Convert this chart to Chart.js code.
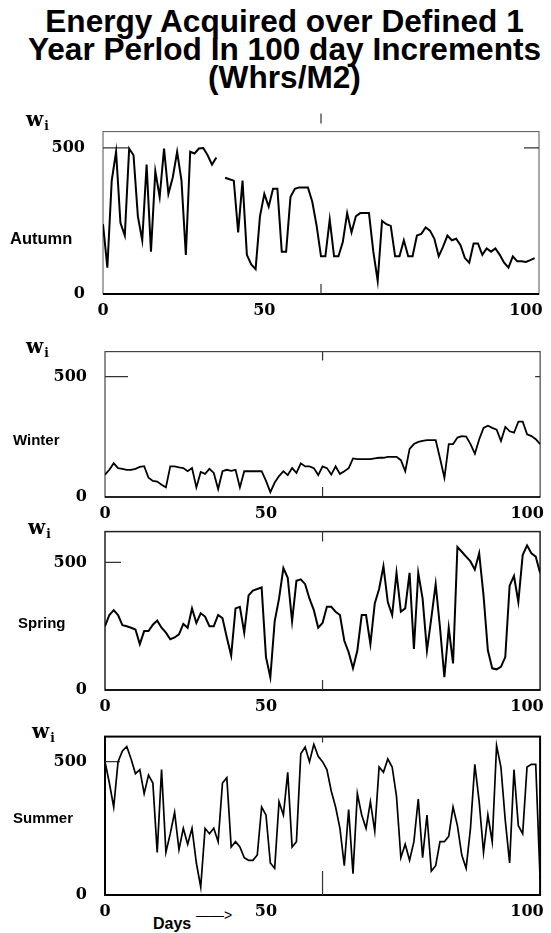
<!DOCTYPE html>
<html>
<head>
<meta charset="utf-8">
<script src="https://cdn.jsdelivr.net/npm/chart.js@4"></script>
<style>
  html, body { margin: 0; padding: 0; background: #fff; }
  body { width: 551px; height: 933px; position: relative; overflow: hidden;
         font-family: "Liberation Sans", Arial, sans-serif; color: #000; }
  #title { position: absolute; left: 9px; top: 8px; width: 551px; text-align: center;
           font-weight: bold; font-size: 31px; line-height: 28px;
           transform: scaleX(1.02); transform-origin: 50% 0; }
  canvas { position: absolute; left: 0; }
  .season { position: absolute; font-weight: bold; font-size: 15px; line-height: 16px; }
  .wi { position: absolute; font-family: "DejaVu Serif", serif; font-weight: bold;
        font-size: 20px; line-height: 20px; }
  .wi sub { font-size: 12px; vertical-align: -4px; margin-left: 1px; }
  #days { position: absolute; left: 153px; top: 916px; font-weight: bold; font-size: 16px; line-height: 16px; }
  #arrow { position: absolute; left: 196px; top: 908px; font-size: 14px; line-height: 14px; }
</style>
</head>
<body>
<div id="title">Energy Acquired over Defined 1<br>Year Perlod In 100 day Increments<br>(Whrs/M2)</div>
<div id="days">Days</div>
<div id="arrow">——&gt;</div>

<script>
'use strict';

// ─── Data (Whrs/M2 per day) ─────────────────────────────────────────────────
const DAYS = Array.from({ length: 101 }, (_, i) => i);

const AUTUMN = [
  239, 90, 388, 487, 244, 200, 498, 475, 266, 184,
  443, 145, 420, 332, 498, 343, 399, 487, 388, 134,
  487, 481, 498, 500, 475, 443, 467, null, 398, 393,
  388, 211, 388, 134, 101, 85, 266, 343, 299, 360,
  360, 145, 145, 332, 360, 365, 365, 365, 316, 233,
  129, 129, 255, 129, 129, 178, 277, 211, 266, 277,
  277, 277, 145, 45, 250, 239, 233, 129, 129, 184,
  129, 129, 200, 206, 228, 217, 189, 129, 162, 200,
  184, 189, 167, 123, 107, 173, 173, 134, 156, 145,
  156, 134, 107, 90, 129, 112, 112, 110, 116, 123, null,
];

const WINTER = [
  93, 113, 140, 120, 117, 113, 113, 117, 125, 128,
  80, 67, 64, 51, 40, 127, 127, 123, 120, 107,
  120, 40, 104, 96, 117, 100, 33, 107, 113, 109,
  113, 40, 107, 107, 107, 107, 107, 67, 20, 60,
  87, 107, 91, 120, 100, 140, 127, 127, 120, 91,
  127, 120, 93, 127, 96, 107, 120, 160, 157, 157,
  157, 157, 160, 163, 163, 167, 167, 167, 153, 107,
  200, 220, 229, 233, 236, 236, 236, 160, 80, 220,
  220, 247, 253, 251, 220, 180, 240, 287, 296, 287,
  280, 233, 291, 273, 267, 313, 313, 260, 253, 240, 220,
];

const SPRING = [
  250, 294, 313, 294, 254, 250, 244, 237, 180, 231,
  231, 256, 272, 244, 225, 199, 206, 218, 259, 244,
  320, 263, 301, 288, 250, 250, 294, 282, 206, 135,
  320, 326, 225, 371, 390, 396, 402, 129, 50, 269,
  358, 478, 440, 269, 428, 434, 415, 358, 313, 244,
  263, 326, 326, 307, 294, 193, 148, 85, 155, 294,
  294, 180, 339, 396, 485, 345, 294, 459, 307, 320,
  459, 161, 459, 358, 155, 282, 415, 244, 50, 244,
  104, 561, 542, 523, 504, 472, 536, 371, 155, 85,
  81, 91, 129, 409, 447, 345, 529, 567, 536, 523, 459,
];

const SUMMER = [
  500, 420, 330, 500, 540, 557, 510, 455, 470, 380,
  450, 420, 160, 470, 160, 230, 310, 170, 250, 190,
  250, 120, 30, 250, 230, 250, 200, 420, 440, 180,
  200, 180, 140, 130, 130, 150, 330, 300, 120, 100,
  350, 300, 460, 180, 200, 530, 555, 500, 565, 520,
  500, 470, 390, 330, 250, 110, 320, 80, 380, 300,
  250, 350, 240, 480, 460, 510, 480, 370, 140, 190,
  130, 200, 360, 140, 300, 90, 110, 200, 200, 220,
  330, 260, 150, 100, 250, 490, 350, 160, 300, 200,
  560, 480, 280, 120, 470, 260, 230, 480, 490, 490, 60,
];

// Axis ticks as printed on the figure (the "50" label sits left of centre).
const X_TICK_AT     = [0, 37, 97];
const X_TICK_LABELS = ['0', '50', '100'];
const Y_TICK_AT     = [0, 500];
const Y_TICK_LABELS = ['0', '500'];

// ─── Layout of the four stacked panels (pixels on the page) ─────────────────
const PANELS = [
  { name: 'Autumn', values: AUTUMN, yMax: 556, left: 103, right: 539, top: 126, bottom: 294,
    nameAt: [10, 230], nameSize: 16.5, wiAt: [26, 109], lineWidth: 2,
    frame: { color: '#555', width: 1, axis: 2 },
    midTop: [-18, -8], midBottom: [-10, 0], mark500: [25, 15] },
  { name: 'Winter', values: WINTER, yMax: 604, left: 105, right: 544, top: 346, bottom: 497,
    nameAt: [13, 432], nameSize: 15, wiAt: [26, 336], lineWidth: 1.8,
    frame: { color: '#444', width: 1.2, axis: 1.5 },
    midTop: [0, 9], midBottom: [-10, 0], mark500: [23, 5] },
  { name: 'Spring', values: SPRING, yMax: 621, left: 105, right: 542, top: 526, bottom: 690,
    nameAt: [18, 615], nameSize: 15, wiAt: [28, 517], lineWidth: 2,
    frame: { color: '#222', width: 1.5, axis: 1.5 },
    midTop: [0, 10], midBottom: [-10, 0], mark500: [16, 0] },
  { name: 'Summer', values: SUMMER, yMax: 594, left: 105, right: 542, top: 731, bottom: 895,
    nameAt: [13, 810], nameSize: 15, wiAt: [32, 721], lineWidth: 1.7,
    frame: { color: '#000', width: 2, axis: 2 },
    midTop: [0, 6], midBottom: [-24, 0], mark500: [15, 0] },
];

const TICK_FONT = { family: '"DejaVu Serif", serif', size: 16, weight: 'bold' };

// ─── Frame, inward tick marks ───────────────────────────────────────────────
const framePlugin = {
  id: 'frame',
  beforeDatasetsDraw(chart, args, o) {
    const { ctx, chartArea: a, scales: { x, y } } = chart;
    ctx.save();
    ctx.strokeStyle = o.color;
    ctx.lineWidth = o.width;
    ctx.strokeRect(a.left, a.top, a.right - a.left, a.bottom - a.top);

    ctx.strokeStyle = '#000';
    ctx.lineWidth = o.axis;
    ctx.beginPath();
    ctx.moveTo(a.left, a.bottom); ctx.lineTo(a.right, a.bottom);
    ctx.stroke();

    ctx.lineWidth = 1.2;
    ctx.strokeStyle = '#333';
    const xm = x.getPixelForValue(50);
    const y5 = y.getPixelForValue(500);
    ctx.beginPath();
    ctx.moveTo(xm, a.top + o.midTop[0]);       ctx.lineTo(xm, a.top + o.midTop[1]);
    ctx.moveTo(xm, a.bottom + o.midBottom[0]); ctx.lineTo(xm, a.bottom + o.midBottom[1]);
    if (o.mark500[0]) { ctx.moveTo(a.left, y5);  ctx.lineTo(a.left + o.mark500[0], y5); }
    if (o.mark500[1]) { ctx.moveTo(a.right, y5); ctx.lineTo(a.right - o.mark500[1], y5); }
    ctx.stroke();
    ctx.restore();
  },
};

// ─── One chart per panel ────────────────────────────────────────────────────
function drawPanel(p) {
  const canvasTop = p.top - 22;
  const canvasBottom = p.bottom + 28;

  const canvas = document.createElement('canvas');
  canvas.width = 551;
  canvas.height = canvasBottom - canvasTop;
  canvas.style.top = canvasTop + 'px';
  document.body.appendChild(canvas);

  const lbl = document.createElement('div');
  lbl.className = 'season';
  lbl.textContent = p.name;
  lbl.style.left = p.nameAt[0] + 'px';
  lbl.style.top = p.nameAt[1] + 'px';
  lbl.style.fontSize = p.nameSize + 'px';
  document.body.appendChild(lbl);

  const wi = document.createElement('div');
  wi.className = 'wi';
  wi.innerHTML = 'w<sub>i</sub>';
  wi.style.left = p.wiAt[0] + 'px';
  wi.style.top = p.wiAt[1] + 'px';
  document.body.appendChild(wi);

  return new Chart(canvas.getContext('2d'), {
    type: 'line',
    data: {
      datasets: [{
        data: DAYS.map((d, i) => ({ x: d, y: p.values[i] })),
        borderColor: '#000',
        borderWidth: p.lineWidth,
        pointRadius: 0,
        tension: 0,
        spanGaps: false,
      }],
    },
    options: {
      responsive: false,
      animation: false,
      events: [],
      layout: { padding: { top: p.top - canvasTop, right: 551 - p.right, left: 0, bottom: 0 } },
      plugins: {
        legend: { display: false },
        tooltip: { enabled: false },
        frame: { ...p.frame, midTop: p.midTop, midBottom: p.midBottom, mark500: p.mark500 },
      },
      scales: {
        x: {
          type: 'linear', min: 0, max: 100,
          grid: { display: false, drawTicks: false },
          border: { display: false },
          afterBuildTicks: s => { s.ticks = X_TICK_AT.map(v => ({ value: v })); },
          afterFit: s => { s.height = canvasBottom - p.bottom; },
          ticks: {
            autoSkip: false, maxRotation: 0, padding: 7, color: '#000', font: TICK_FONT,
            callback: (v, i) => X_TICK_LABELS[i],
          },
        },
        y: {
          min: 0, max: p.yMax,
          grid: { display: false, drawTicks: false },
          border: { display: false },
          afterBuildTicks: s => { s.ticks = Y_TICK_AT.map(v => ({ value: v })); },
          afterFit: s => { s.width = p.left; },
          ticks: {
            padding: 18, color: '#000', font: TICK_FONT,
            callback: (v, i) => Y_TICK_LABELS[i],
          },
        },
      },
    },
    plugins: [framePlugin],
  });
}

PANELS.forEach(drawPanel);
</script>
</body>
</html>
